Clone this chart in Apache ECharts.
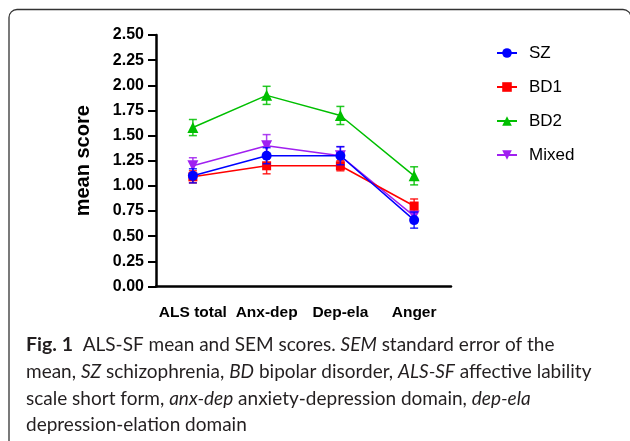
<!DOCTYPE html>
<html>
<head>
<meta charset="utf-8">
<script src="https://cdn.jsdelivr.net/npm/echarts@6/dist/echarts.min.js"></script>
<style>
html,body{margin:0;padding:0;background:#fff;}
#chart{width:630px;height:441px;}
</style>
</head>
<body>
<div id="chart"></div>
<script>
var categories = ['ALS total', 'Anx-dep', 'Dep-ela', 'Anger'];
var yTicks = ['0.00','0.25','0.50','0.75','1.00','1.25','1.50','1.75','2.00','2.25','2.50'];

var szMean = [1.10, 1.30, 1.30, 0.66];
var szSem  = [0.07, 0.08, 0.09, 0.08];
var bd1Mean = [1.09, 1.20, 1.20, 0.80];
var bd1Sem  = [0.06, 0.08, 0.05, 0.07];
var bd2Mean = [1.58, 1.90, 1.70, 1.10];
var bd2Sem  = [0.08, 0.09, 0.09, 0.09];
var mixedMean = [1.20, 1.40, 1.30, 0.70];
var mixedSem  = [0.08, 0.11, 0.09, 0.05];

var groups = [
  {name: 'SZ', mean: szMean, sem: szSem, color: '#0000ff', symbol: 'circle', size: 10, z: 8},
  {name: 'BD1', mean: bd1Mean, sem: bd1Sem, color: '#ff0000', symbol: 'rect', size: 9, z: 6},
  {name: 'BD2', mean: bd2Mean, sem: bd2Sem, color: '#00bf00', symbol: 'triangle', size: 11, z: 4},
  {name: 'Mixed', mean: mixedMean, sem: mixedSem, color: '#a020f0', symbol: 'path://M0,0 L10,0 L5,9 Z', size: 11, z: 5}
];

var series = [];
groups.forEach(function (g) {
  series.push({
    name: g.name,
    type: 'line',
    data: g.mean,
    symbol: g.symbol,
    symbolSize: g.size,
    color: g.color,
    lineStyle: {width: 1.5, color: g.color},
    itemStyle: {color: g.color},
    z: g.z,
    silent: true,
    animation: false
  });
  series.push({
    name: g.name + ' SEM',
    type: 'custom',
    z: g.z - 1,
    silent: true,
    animation: false,
    data: g.mean.map(function (m, i) { return [i, m - g.sem[i], m + g.sem[i]]; }),
    renderItem: function (params, api) {
      var x = api.value(0);
      var lo = api.coord([x, api.value(1)]);
      var hi = api.coord([x, api.value(2)]);
      var hw = 4;
      var st = {stroke: g.color, lineWidth: 1.5, opacity: 0.85};
      return {
        type: 'group',
        children: [
          {type: 'line', shape: {x1: lo[0], y1: lo[1], x2: hi[0], y2: hi[1]}, style: st},
          {type: 'line', shape: {x1: lo[0] - hw, y1: lo[1], x2: lo[0] + hw, y2: lo[1]}, style: st},
          {type: 'line', shape: {x1: hi[0] - hw, y1: hi[1], x2: hi[0] + hw, y2: hi[1]}, style: st}
        ]
      };
    }
  });
});

var sans = '"Liberation Sans", Arial, sans-serif';

var option = {
  backgroundColor: '#ffffff',
  animation: false,
  grid: {left: 156, right: 179, top: 35, bottom: 154.5, containLabel: false},
  legend: {
    data: groups.map(function (g) { return g.name; }),
    orient: 'vertical',
    left: 496,
    top: 43,
    padding: 0,
    itemWidth: 20,
    itemHeight: 12,
    itemGap: 14,
    selectedMode: false,
    textStyle: {fontFamily: sans, fontSize: 17, color: '#000', lineHeight: 20, padding: [0, 0, 0, 7]}
  },
  xAxis: {
    type: 'category',
    data: categories,
    boundaryGap: true,
    axisLine: {lineStyle: {color: '#000', width: 2.5}},
    axisTick: {alignWithLabel: true, length: 9, lineStyle: {color: '#000', width: 2}},
    axisLabel: {interval: 0, fontFamily: sans, fontWeight: 'bold', fontSize: 15.5, color: '#000', margin: 18}
  },
  yAxis: {
    type: 'value',
    min: 0,
    max: 2.5,
    interval: 0.25,
    name: 'mean score',
    nameLocation: 'middle',
    nameGap: 63,
    nameTextStyle: {fontFamily: sans, fontWeight: 'bold', fontSize: 20, color: '#000'},
    axisLine: {show: true, lineStyle: {color: '#000', width: 2.5}},
    axisTick: {show: true, length: 8, lineStyle: {color: '#000', width: 2}},
    splitLine: {show: false},
    axisLabel: {
      fontFamily: sans, fontWeight: 'bold', fontSize: 16, color: '#000', margin: 12,
      formatter: function (v) { return yTicks[Math.round(v / 0.25)]; }
    }
  },
  graphic: [
    {
      type: 'rect',
      shape: {x: 9, y: 9.5, width: 622, height: 520, r: 8},
      style: {fill: 'none', stroke: '#333', lineWidth: 1.3},
      silent: true
    },
    {
      type: 'text',
      left: 26,
      top: 335,
      style: {
        text: '{b|Fig. 1}{r|  ALS-SF mean and SEM scores. }{i|SEM}{r| standard error of the}\n' +
              '{r|mean, }{i|SZ}{r| schizophrenia, }{i|BD}{r| bipolar disorder, }{i|ALS-SF}{r| affective lability}\n' +
              '{r|scale short form, }{i|anx-dep}{r| anxiety-depression domain, }{i|dep-ela}\n' +
              '{r|depression-elation domain}',
        rich: {
          b: {fontFamily: 'Lato, sans-serif', fontWeight: 'bold', fontSize: 19.5, lineHeight: 26.7, fill: '#231f20'},
          r: {fontFamily: 'Lato, sans-serif', fontSize: 19, lineHeight: 26.7, fill: '#231f20'},
          i: {fontFamily: 'Lato, sans-serif', fontStyle: 'italic', fontSize: 19, lineHeight: 26.7, fill: '#231f20'}
        }
      },
      silent: true
    }
  ],
  series: series
};

var chart = echarts.init(document.getElementById('chart'), null, {renderer: 'canvas'});
chart.setOption(option);
</script>
</body>
</html>
